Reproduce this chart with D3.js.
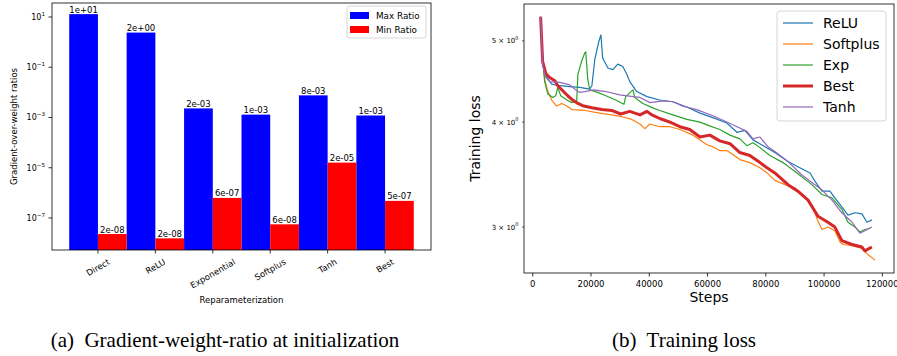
<!DOCTYPE html>
<html>
<head>
<meta charset="utf-8">
<script src="https://cdn.jsdelivr.net/npm/d3@7"></script>
<style>
body{margin:0;background:#fff}
svg{font-family:"DejaVu Sans",sans-serif}
</style>
</head>
<body>
<svg id="fig" width="897" height="356"></svg>
<script>
// (a) ratios at init
const categories = ["Direct", "ReLU", "Exponential", "Softplus", "Tanh", "Best"]
const maxRatio = [13, 2.4, 2.3e-3, 1.3e-3, 7.6e-3, 1.2e-3]
const minRatio = [2.3e-8, 1.55e-8, 6.3e-7, 5.6e-8, 1.6e-5, 4.8e-7]
const barTickExp = [1, -1, -3, -5, -7]

// (b) training loss, [step, loss]
const reluLoss = [[2700,5.34],[3400,4.75],[4500,4.54],[6500,4.44],[9300,4.42],[12700,4.41],[16100,4.40],[19600,4.38],[20300,4.42],[21300,4.75],[22700,4.99],[23400,5.08],[24000,4.77],[25800,4.64],[27500,4.62],[29200,4.69],[30900,4.66],[32300,4.56],[33300,4.47],[35700,4.35],[39200,4.29],[43600,4.25],[48100,4.23],[52900,4.17],[57400,4.10],[61800,4.05],[66600,3.99],[70100,3.89],[72800,3.91],[75600,3.81],[79700,3.74],[83100,3.68],[87600,3.59],[91000,3.54],[95200,3.48],[96900,3.40],[99300,3.31],[102000,3.31],[103700,3.25],[106100,3.17],[108200,3.10],[110600,3.12],[113000,3.11],[114700,3.04],[116400,3.06]]
const softplusLoss = [[2700,5.34],[3400,4.75],[4100,4.49],[5200,4.35],[6500,4.25],[8200,4.18],[10000,4.21],[11700,4.18],[13400,4.14],[17900,4.13],[23000,4.10],[27100,4.08],[30600,4.06],[34000,4.03],[36800,3.98],[38500,3.93],[40200,3.98],[43600,3.95],[47100,3.95],[50500,3.92],[55000,3.86],[57400,3.81],[59800,3.76],[61800,3.74],[64200,3.70],[66600,3.70],[68700,3.66],[71100,3.61],[74500,3.58],[78000,3.53],[80400,3.48],[83100,3.41],[86600,3.37],[90000,3.34],[93400,3.26],[96200,3.16],[97900,3.05],[99300,2.98],[101300,3.00],[103700,2.97],[105500,2.88],[106500,2.86],[109600,2.85],[113000,2.83],[115100,2.78],[117500,2.74]]
const expLoss = [[2700,5.34],[3400,4.75],[4100,4.47],[5200,4.32],[6900,4.28],[7900,4.30],[8600,4.40],[9600,4.30],[11700,4.25],[13400,4.22],[15100,4.24],[15500,4.56],[16800,4.73],[17900,4.84],[18200,4.85],[18900,4.49],[19600,4.37],[22300,4.34],[25100,4.30],[28500,4.25],[31300,4.20],[31900,4.29],[34400,4.37],[35000,4.28],[37800,4.21],[41200,4.16],[43600,4.13],[48100,4.08],[52900,4.03],[57400,4.00],[59800,3.97],[64200,3.92],[67700,3.86],[71100,3.82],[73500,3.75],[75600,3.78],[78000,3.73],[81400,3.65],[85900,3.58],[90700,3.48],[95800,3.37],[99300,3.28],[102700,3.25],[106100,3.15],[108200,3.04],[110600,3.00],[112300,2.96],[114000,2.98],[115800,2.99]]
const bestLoss = [[2700,5.34],[3400,4.72],[4500,4.57],[5800,4.52],[7600,4.48],[8600,4.42],[10300,4.36],[12000,4.30],[13700,4.25],[15500,4.21],[17500,4.18],[20300,4.16],[23700,4.14],[27100,4.13],[30200,4.09],[33300,4.12],[36800,4.08],[39200,4.12],[40900,4.08],[43600,4.04],[47100,4.00],[50500,3.95],[53900,3.92],[57400,3.84],[60800,3.86],[64200,3.80],[67700,3.77],[71100,3.68],[74500,3.65],[78000,3.58],[80400,3.53],[83100,3.48],[87600,3.37],[91000,3.31],[94500,3.23],[97900,3.09],[101300,3.04],[103700,3.00],[106100,2.89],[109600,2.86],[113000,2.84],[114000,2.81],[116400,2.84]]
const tanhLoss = [[2700,5.34],[3400,4.68],[4500,4.52],[5800,4.47],[9300,4.46],[12700,4.43],[14400,4.38],[16100,4.34],[17900,4.35],[21000,4.37],[25100,4.35],[29900,4.31],[34400,4.29],[36800,4.28],[40200,4.22],[44700,4.24],[48100,4.23],[51500,4.18],[56300,4.14],[61800,4.07],[65300,4.02],[69400,3.96],[73500,3.90],[75600,3.82],[78000,3.84],[80700,3.74],[83100,3.69],[87600,3.59],[92400,3.46],[95800,3.39],[99300,3.32],[102700,3.23],[106100,3.12],[109600,3.04],[112300,2.95],[114000,2.97],[116400,3.00]]
const lossNames = ["ReLU", "Softplus", "Exp", "Best", "Tanh"]
const stepTicks = [0, 20000, 40000, 60000, 80000, 100000, 120000]
const lossTicks = [3, 4, 5]

const svg = d3.select("#fig")

// 1e-03 style labels like matplotlib "%.0e"
function sci(v){
    var s = v.toExponential(0)
    var m = s.split("e")
    var sign = m[1][0]
    var e = m[1].slice(1)
    if(e.length < 2) e = "0" + e
    return m[0] + "e" + sign + e
}

// ---------- (a) bar chart ----------
const A = {left:52, right:431, top:3, bottom:250}
const xa = d3.scaleLinear().domain([-0.8, 5.8]).range([A.left, A.right])
const ya = d3.scaleLog().domain([Math.pow(10,-8.274), Math.pow(10,1.557)]).range([A.bottom, A.top])
const ga = svg.append("g")

ga.selectAll(".bmax").data(maxRatio).enter().append("rect")
    .attr("x", (d,i) => xa(i-0.5)).attr("width", xa(0.5)-xa(0))
    .attr("y", d => ya(d)).attr("height", d => A.bottom - ya(d))
    .attr("fill", "#0000ff")
ga.selectAll(".bmin").data(minRatio).enter().append("rect")
    .attr("x", (d,i) => xa(i)).attr("width", xa(0.5)-xa(0))
    .attr("y", d => ya(d)).attr("height", d => A.bottom - ya(d))
    .attr("fill", "#ff0000")

ga.selectAll(".lmax").data(maxRatio).enter().append("text")
    .attr("x", (d,i) => xa(i-0.25)).attr("y", d => ya(d)-1.5)
    .attr("text-anchor","middle").attr("font-size",8.5).text(d => sci(d))
ga.selectAll(".lmin").data(minRatio).enter().append("text")
    .attr("x", (d,i) => xa(i+0.25)).attr("y", d => ya(d)-1.5)
    .attr("text-anchor","middle").attr("font-size",8.5).text(d => sci(d))

ga.append("rect").attr("x",A.left).attr("y",A.top).attr("width",A.right-A.left).attr("height",A.bottom-A.top)
    .attr("fill","none").attr("stroke","#000").attr("stroke-width",0.8)

// y ticks
barTickExp.forEach(function(e){
    var y = ya(Math.pow(10,e))
    ga.append("line").attr("x1",A.left-3.5).attr("x2",A.left).attr("y1",y).attr("y2",y).attr("stroke","#000").attr("stroke-width",0.8)
    var t = ga.append("text").attr("x",A.left-7).attr("y",y+3).attr("text-anchor","end").attr("font-size",8)
    t.append("tspan").text("10")
    t.append("tspan").attr("dy",-4).attr("font-size",5.6).text(String(e).replace("-","\u2212"))
})

// x ticks, rotated 30deg labels centred under the tick
categories.forEach(function(c,i){
    var x = xa(i)
    ga.append("line").attr("x1",x).attr("x2",x).attr("y1",A.bottom).attr("y2",A.bottom+3.5).attr("stroke","#000").attr("stroke-width",0.8)
    var t = ga.append("text").attr("text-anchor","middle").attr("dominant-baseline","central").attr("font-size",8.5).text(c)
    var w = t.node().getComputedTextLength()
    var h = 8.5*1.1
    var H = w*Math.sin(Math.PI/6) + h*Math.cos(Math.PI/6)
    t.attr("transform","translate("+x+","+(A.bottom+7+H/2)+") rotate(-30)")
})

ga.append("text").attr("x",(A.left+A.right)/2).attr("y",303).attr("text-anchor","middle").attr("font-size",8.5).text("Reparameterization")
ga.append("text").attr("transform","translate(14,"+((A.top+A.bottom)/2)+") rotate(-90)")
    .attr("text-anchor","middle").attr("dominant-baseline","central").attr("font-size",8.5).text("Gradient-over-weight ratios")

// legend
const lga = ga.append("g")
lga.append("rect").attr("x",347).attr("y",6).attr("width",79).attr("height",32).attr("rx",2)
    .attr("fill","#fff").attr("fill-opacity",0.8).attr("stroke","#ccc").attr("stroke-width",0.8)
;[["Max Ratio","#0000ff"],["Min Ratio","#ff0000"]].forEach(function(d,i){
    lga.append("rect").attr("x",350).attr("y",12+i*14).attr("width",19).attr("height",7).attr("fill",d[1])
    lga.append("text").attr("x",376).attr("y",19+i*14).attr("font-size",8.8).text(d[0])
})

// ---------- (b) training loss ----------
const B = {left:524, right:894, top:4, bottom:273}
const xb = d3.scaleLinear().domain([-3000, 124000]).range([B.left, B.right])
const yb = d3.scaleLog().domain([2.645, 5.53]).range([B.bottom, B.top])
const gb = svg.append("g")
const colors = ["#1f77b4", "#ff7f0e", "#2ca02c", "#d62728", "#9467bd"]
const widths = [1.2, 1.2, 1.2, 3, 1.2]
const series = [reluLoss, softplusLoss, expLoss, bestLoss, tanhLoss]

gb.append("clipPath").attr("id","clipb").append("rect")
    .attr("x",B.left).attr("y",B.top).attr("width",B.right-B.left).attr("height",B.bottom-B.top)

const line = d3.line().x(d => xb(d[0])).y(d => yb(d[1]))
series.forEach(function(s,i){
    gb.append("path").attr("d",line(s)).attr("fill","none").attr("stroke",colors[i])
        .attr("stroke-width",widths[i]).attr("stroke-linejoin","round").attr("clip-path","url(#clipb)")
})

gb.append("rect").attr("x",B.left).attr("y",B.top).attr("width",B.right-B.left).attr("height",B.bottom-B.top)
    .attr("fill","none").attr("stroke","#000").attr("stroke-width",0.8)

stepTicks.forEach(function(v){
    var x = xb(v)
    gb.append("line").attr("x1",x).attr("x2",x).attr("y1",B.bottom).attr("y2",B.bottom+3.5).attr("stroke","#000").attr("stroke-width",0.8)
    gb.append("text").attr("x",x).attr("y",287).attr("text-anchor","middle").attr("font-size",8.5).text(v)
})
lossTicks.forEach(function(v){
    var y = yb(v)
    gb.append("line").attr("x1",B.left-2).attr("x2",B.left).attr("y1",y).attr("y2",y).attr("stroke","#000").attr("stroke-width",0.6)
    var t = gb.append("text").attr("x",B.left-5.5).attr("y",y+2.5).attr("text-anchor","end").attr("font-size",7)
    t.append("tspan").text(v+" \u00d7 10")
    t.append("tspan").attr("dy",-3.5).attr("font-size",5).text("0")
})

gb.append("text").attr("x",(B.left+B.right)/2).attr("y",302).attr("text-anchor","middle").attr("font-size",14).text("Steps")
gb.append("text").attr("transform","translate(475,"+((B.top+B.bottom)/2)+") rotate(-90)")
    .attr("text-anchor","middle").attr("dominant-baseline","central").attr("font-size",14).text("Training loss")

const lgb = gb.append("g")
lgb.append("rect").attr("x",777).attr("y",11).attr("width",109).attr("height",110).attr("rx",3)
    .attr("fill","#fff").attr("fill-opacity",0.8).attr("stroke","#ccc").attr("stroke-width",0.8)
lossNames.forEach(function(n,i){
    var y = 23 + i*21
    lgb.append("line").attr("x1",783).attr("x2",813).attr("y1",y).attr("y2",y).attr("stroke",colors[i]).attr("stroke-width",widths[i])
    lgb.append("text").attr("x",823).attr("y",y).attr("dominant-baseline","central").attr("font-size",14).text(n)
})

// captions
svg.append("text").attr("x",225).attr("y",347).attr("text-anchor","middle")
    .attr("font-family","'Liberation Serif','Times New Roman',serif").attr("font-size",21)
    .text("(a)\u00a0 Gradient-weight-ratio at initialization")
svg.append("text").attr("x",684).attr("y",347).attr("text-anchor","middle")
    .attr("font-family","'Liberation Serif','Times New Roman',serif").attr("font-size",21)
    .text("(b)\u00a0 Training loss")
</script>
</body>
</html>
